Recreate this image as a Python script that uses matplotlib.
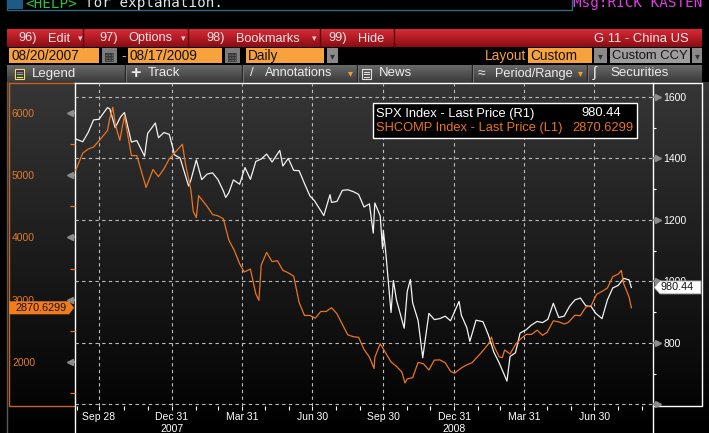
import numpy as np
import pandas as pd
import matplotlib
matplotlib.use("Agg")
import matplotlib.pyplot as plt
import matplotlib.dates as mdates
from matplotlib.colors import to_rgb
from matplotlib.patches import Rectangle, Polygon
from matplotlib.ticker import FixedLocator
from matplotlib.transforms import blended_transform_factory

# ---- data ----
spx_dates = [
    "2007-08-29", "2007-09-07", "2007-09-14", "2007-09-21", "2007-09-28", "2007-10-09",
    "2007-10-12", "2007-10-19", "2007-10-26", "2007-10-31", "2007-11-09", "2007-11-16",
    "2007-11-26", "2007-11-30", "2007-12-10", "2007-12-14", "2007-12-21", "2007-12-28",
    "2008-01-04", "2008-01-11", "2008-01-22", "2008-01-25", "2008-02-01", "2008-02-08",
    "2008-02-15", "2008-02-22", "2008-02-29", "2008-03-07", "2008-03-10", "2008-03-14",
    "2008-03-20", "2008-03-28", "2008-04-04", "2008-04-11", "2008-04-18", "2008-04-25",
    "2008-05-02", "2008-05-09", "2008-05-19", "2008-05-23", "2008-05-30", "2008-06-06",
    "2008-06-13", "2008-06-20", "2008-06-27", "2008-07-03", "2008-07-15", "2008-07-23",
    "2008-07-25", "2008-08-01", "2008-08-08", "2008-08-15", "2008-08-22", "2008-08-29",
    "2008-09-05", "2008-09-12", "2008-09-17", "2008-09-19", "2008-09-26", "2008-09-29",
    "2008-09-30", "2008-10-03", "2008-10-10", "2008-10-13", "2008-10-17", "2008-10-27",
    "2008-10-31", "2008-11-04", "2008-11-07", "2008-11-14", "2008-11-20", "2008-11-28",
    "2008-12-05", "2008-12-12", "2008-12-19", "2008-12-26", "2009-01-06", "2009-01-09",
    "2009-01-16", "2009-01-20", "2009-01-28", "2009-02-06", "2009-02-13", "2009-02-20",
    "2009-02-27", "2009-03-09", "2009-03-13", "2009-03-20", "2009-03-26", "2009-04-03",
    "2009-04-09", "2009-04-17", "2009-04-24", "2009-05-01", "2009-05-08", "2009-05-15",
    "2009-05-22", "2009-05-29", "2009-06-05", "2009-06-12", "2009-06-19", "2009-06-26",
    "2009-07-02", "2009-07-10", "2009-07-17", "2009-07-24", "2009-07-31", "2009-08-07",
    "2009-08-14", "2009-08-17",
]
spx_close = [
    1463, 1454, 1484, 1525, 1527, 1565,
    1561, 1500, 1535, 1549, 1453, 1458,
    1407, 1481, 1515, 1467, 1484, 1478,
    1411, 1401, 1310, 1330, 1395, 1331,
    1349, 1353, 1331, 1294, 1273, 1288,
    1330, 1316, 1370, 1332, 1390, 1398,
    1414, 1388, 1426, 1375, 1400, 1361,
    1360, 1318, 1278, 1262, 1214, 1282,
    1257, 1260, 1296, 1298, 1292, 1283,
    1242, 1252, 1157, 1255, 1213, 1106,
    1166, 1099, 899, 1003, 940, 848,
    968, 1006, 930, 873, 752, 896,
    876, 879, 887, 872, 935, 890,
    850, 805, 874, 869, 826, 770,
    735, 676, 756, 768, 832, 843,
    857, 870, 866, 877, 929, 883,
    887, 919, 940, 946, 921, 918,
    896, 879, 940, 979, 987, 1010,
    1005, 980.44,
]

sh_dates = [
    "2007-08-29", "2007-09-07", "2007-09-14", "2007-09-21", "2007-09-28", "2007-10-09",
    "2007-10-12", "2007-10-16", "2007-10-19", "2007-10-25", "2007-10-31", "2007-11-09",
    "2007-11-16", "2007-11-28", "2007-11-30", "2007-12-07", "2007-12-14", "2007-12-21",
    "2007-12-28", "2008-01-04", "2008-01-14", "2008-01-18", "2008-01-25", "2008-01-28",
    "2008-02-01", "2008-02-04", "2008-02-15", "2008-02-22", "2008-02-29", "2008-03-07",
    "2008-03-14", "2008-03-21", "2008-03-28", "2008-04-03", "2008-04-11", "2008-04-18",
    "2008-04-22", "2008-04-25", "2008-05-02", "2008-05-09", "2008-05-16", "2008-05-23",
    "2008-05-30", "2008-06-06", "2008-06-13", "2008-06-20", "2008-06-27", "2008-07-04",
    "2008-07-11", "2008-07-18", "2008-07-25", "2008-08-01", "2008-08-08", "2008-08-15",
    "2008-08-22", "2008-08-29", "2008-09-05", "2008-09-12", "2008-09-18", "2008-09-19",
    "2008-09-26", "2008-10-10", "2008-10-17", "2008-10-24", "2008-10-28", "2008-10-31",
    "2008-11-07", "2008-11-14", "2008-11-21", "2008-11-28", "2008-12-05", "2008-12-12",
    "2008-12-19", "2008-12-26", "2008-12-31", "2009-01-09", "2009-01-16", "2009-01-23",
    "2009-02-06", "2009-02-13", "2009-02-17", "2009-02-20", "2009-02-27", "2009-03-03",
    "2009-03-06", "2009-03-13", "2009-03-20", "2009-03-27", "2009-04-03", "2009-04-10",
    "2009-04-17", "2009-04-24", "2009-04-30", "2009-05-08", "2009-05-15", "2009-05-22",
    "2009-05-27", "2009-06-05", "2009-06-12", "2009-06-19", "2009-06-26", "2009-07-03",
    "2009-07-10", "2009-07-17", "2009-07-24", "2009-07-31", "2009-08-04", "2009-08-07",
    "2009-08-14", "2009-08-17",
]
sh_close = [
    5085, 5355, 5421, 5454, 5552, 5718,
    5913, 6092, 5819, 5562, 5954, 5316,
    5316, 4803, 4871, 5092, 4978, 5101,
    5262, 5361, 5497, 5180, 4761, 4419,
    4320, 4672, 4499, 4370, 4348, 4300,
    3962, 3796, 3580, 3446, 3492, 3094,
    2990, 3558, 3761, 3613, 3626, 3473,
    3433, 3379, 2957, 2747, 2748, 2704,
    2811, 2811, 2872, 2776, 2605, 2437,
    2406, 2397, 2202, 2079, 1895, 2075,
    2293, 2000, 1930, 1839, 1664, 1728,
    1748, 1994, 1971, 1871, 2030, 2034,
    1990, 1850, 1820, 1904, 1954, 1990,
    2182, 2290, 2400, 2261, 2082, 2071,
    2193, 2128, 2282, 2374, 2444, 2444,
    2512, 2429, 2478, 2661, 2645, 2611,
    2633, 2751, 2744, 2881, 2905, 3088,
    3133, 3189, 3372, 3412, 3471, 3261,
    3046, 2870.6299,
]

quarter_ends = ["2007-09-28", "2007-12-31", "2008-03-31", "2008-06-30",
                "2008-09-30", "2008-12-31", "2009-03-31", "2009-06-30"]
quarter_labels = ["Sep 28", "Dec 31\n2007", "Mar 31", "Jun 30",
                  "Sep 30", "Dec 31\n2008", "Mar 31", "Jun 30"]
spx_ticks = [600, 800, 1000, 1200, 1400, 1600]
spx_labels = ["", "800", "1000", "1200", "1400", "1600"]
spx_minor = [700, 900, 1100, 1300, 1500]
sh_ticks = [2000, 3000, 4000, 5000, 6000]
sh_minor = [1500, 2500, 3500, 4500, 5500]

# ---- look ----
SANS = ["Liberation Sans", "DejaVu Sans"]
MONO = ["DejaVu Sans Mono"]
plt.rcParams["font.family"] = SANS

ORANGE = "#ea751e"
AMBER = "#f7a23c"
GRID = "#bdbdbd"

W, H = 709, 433
L, R, T, B = 75, 653, 83, 406

fig = plt.figure(figsize=(W / 100, H / 100), dpi=100)
fig.patch.set_facecolor("black")

bg = fig.add_axes([0, 0, 1, 1])
bg.set_xlim(0, W)
bg.set_ylim(H, 0)
bg.axis("off")


def gradient(ax, x0, x1, y0, y1, c_top, c_bot):
    t = np.linspace(0, 1, 128)[:, None]
    img = np.array(to_rgb(c_top))[None, :] * (1 - t) + np.array(to_rgb(c_bot))[None, :] * t
    ax.imshow(img[:, None, :], extent=(x0, x1, y1, y0), aspect="auto",
              interpolation="bilinear", zorder=0)


def box(ax, x, y, w, h, fc, ec="none", lw=0.8):
    ax.add_patch(Rectangle((x, y), w, h, fc=fc, ec=ec, lw=lw, zorder=1))


# top strip
bg.add_patch(Rectangle((7, -6), 565, 16, fill=False, ec="#2b6b80", lw=1))
box(bg, 7, -6, 16, 15, "#1f5a86")
bg.text(25, 7.5, "<HELP>", color="#34c034", fontsize=10.3, family=MONO, va="baseline")
bg.text(85, 7.5, "for explanation.", color="#e6e6e6", fontsize=10.3, family=MONO, va="baseline")
bg.text(573, 7.5, "Msg:RICK KASTEN", color="#e23ee2", fontsize=10.3, family=MONO, va="baseline")

# red menu bar
gradient(bg, 7, 702, 29, 47, "#d92b36", "#8a0c13")
for sx in [83, 188, 320, 394]:
    bg.plot([sx, sx], [29, 47], color="#5a0508", lw=1)
for txt, x in [("96)", 18), ("Edit", 48), ("97)", 99), ("Options", 128),
               ("98)", 206), ("Bookmarks", 236), ("99)", 328), ("Hide", 358)]:
    bg.text(x, 38.5, txt, color="#f3e6e6", fontsize=9.2, va="center")
for x in [78, 181, 312]:
    bg.text(x, 38.5, "▾", color="#f0caca", fontsize=6.5, family=["DejaVu Sans"], va="center")
bg.text(689, 38.5, "G 11 - China US", color="#f3e6e6", fontsize=9.4,
        va="center", ha="right")

# date / period row
ry, rh, rc = 48, 15, 56
for x, w, txt in [(9, 90, "08/20/2007"), (128, 94, "08/17/2009"), (246, 78, "Daily"),
                  (528, 64, "Custom")]:
    box(bg, x, ry, w, rh, AMBER)
    bg.text(x + 2, rc, txt, color="#111111", fontsize=9.8, va="center")
for x in [102, 225]:
    box(bg, x, ry, 15, rh, "#7c7c7c")
    bg.text(x + 7.5, rc, "▦", color="#2a2a2a", fontsize=8, family=["DejaVu Sans"],
            ha="center", va="center")
bg.text(121, rc, "-", color=AMBER, fontsize=10, va="center")
for x, w in [(327, 11), (594, 13), (692, 10)]:
    box(bg, x, ry, w, rh, "#8a8a8a")
    bg.text(x + w / 2, rc, "▾", color="#333333", fontsize=7, family=["DejaVu Sans"],
            ha="center", va="center")
bg.text(485, rc, "Layout", color=AMBER, fontsize=9.8, va="center")
box(bg, 610, ry, 80, rh, "#9d9d9d")
bg.text(612, rc, "Custom CCY", color="#151515", fontsize=9.4, va="center")

# tool bar
gradient(bg, 7, 702, 65, 82, "#6a6a6a", "#3a3a3a")
for sx in [125, 242, 357, 472, 587]:
    bg.plot([sx, sx], [65, 82], color="#262626", lw=1)
    bg.plot([sx + 1, sx + 1], [65, 82], color="#7a7a7a", lw=0.6)
tb_y = 73.5
bg.add_patch(Rectangle((15, 69), 9, 10, fc="#303030", ec="#efe070", lw=0.8, zorder=2))
for yy, cc in [(71.5, "#d050d0"), (74, "#60d060"), (76.5, "#efe070")]:
    bg.plot([17, 22], [yy, yy], color=cc, lw=0.9, zorder=3)
bg.add_patch(Rectangle((362, 69), 9, 10, fc="none", ec="#e0e0e0", lw=0.8, zorder=2))
for yy in [71.5, 74, 76.5]:
    bg.plot([364, 369], [yy, yy], color="#e0e0e0", lw=0.8, zorder=3)
for txt, x, fs in [("Legend", 32, 9.5), ("+", 130, 13), ("Track", 148, 9.5),
                   ("/", 250, 9.5), ("Annotations", 265, 9.2), ("News", 379, 9.5),
                   ("≈", 478, 10), ("Period/Range", 495, 9.2), ("ʃ", 593, 11),
                   ("Securities", 610, 9.5)]:
    bg.text(x, tb_y, txt, color="#ececec", fontsize=fs, va="center",
            fontweight="bold" if txt == "+" else "normal")
for x in [348, 578]:
    bg.text(x, tb_y, "▾", color="#f0a030", fontsize=7, family=["DejaVu Sans"], va="center")

# chart panels
gradient(bg, 7, W, 82, H, "#363636", "#000000")
bg.plot([7, 7], [82, H], color="#5a5a5a", lw=1)
bg.plot([9, 9, L], [T, B, B], color="#c4621e", lw=1)
bg.plot([9, L], [T, T], color="#c4621e", lw=1)
bg.plot([L, L], [T, H], color="white", lw=1)
bg.plot([R, R], [T, H], color="white", lw=1)
bg.plot([L, R, 702, 702, R], [T, T, T, B, B], color="white", lw=1)

# ---- plot axes ----
ax = fig.add_axes([L / W, 1 - B / H, (R - L) / W, (B - T) / H])
ax.set_facecolor("none")
ax2 = ax.twinx()
for a in (ax, ax2):
    for s in a.spines.values():
        s.set_visible(False)

ax.plot(pd.to_datetime(spx_dates), spx_close, color="#f2f2f2", lw=0.9)
ax2.plot(pd.to_datetime(sh_dates), sh_close, color=ORANGE, lw=0.9)

ax.set_xlim(pd.Timestamp("2007-08-28"), pd.Timestamp("2009-09-14"))
ax.set_ylim(595, 1645)
ax2.set_ylim(1293, 6482)

ax.set_xticks(mdates.date2num(pd.to_datetime(quarter_ends)), labels=quarter_labels)
ax.xaxis.set_minor_locator(mdates.MonthLocator(bymonth=[1, 2, 4, 5, 7, 8, 10, 11],
                                               bymonthday=-1))
ax.tick_params(axis="x", which="both", direction="out", color="white", length=3,
               width=0.8, labelcolor="white", labelsize=7.5, pad=1)
for lab in ax.get_xticklabels():
    lab.set_linespacing(1.3)

ax.grid(True, which="major", axis="both", color=GRID, lw=0.8, ls=(0, (3, 3)))

# right axis (SPX)
ax.yaxis.tick_right()
ax.set_yticks(spx_ticks, labels=spx_labels)
ax.yaxis.set_minor_locator(FixedLocator(spx_minor))
ax.tick_params(axis="y", which="major", direction="out", length=4, width=1.6,
               color="#8c8c8c", labelcolor="white", labelsize=7.5, pad=3.5)
ax.tick_params(axis="y", which="minor", direction="out", length=2.2, width=0.8,
               color="white")
ax.plot(np.full(len(spx_ticks), 1 + 5 / (R - L)), spx_ticks, ls="none", marker=">",
        ms=4, color="#8c8c8c", clip_on=False,
        transform=blended_transform_factory(ax.transAxes, ax.transData))

# left axis (SHCOMP)
ax2.yaxis.tick_left()
ax2.set_yticks(sh_ticks)
ax2.yaxis.set_minor_locator(FixedLocator(sh_minor))
ax2.tick_params(axis="y", which="major", direction="out", length=4, width=1.6,
                color="#8c8c8c", labelcolor="#e07a2c", labelsize=7.5, pad=41.4)
ax2.tick_params(axis="y", which="minor", direction="out", length=3.5, width=0.9,
                color=ORANGE)
for lab in ax2.get_yticklabels():
    lab.set_ha("left")
ax2.plot(np.full(len(sh_ticks), -5 / (R - L)), sh_ticks, ls="none", marker="<",
         ms=4, color="#8c8c8c", clip_on=False,
         transform=blended_transform_factory(ax2.transAxes, ax2.transData))

# ---- overlay: last-price tags and legend box ----
top = fig.add_axes([0, 0, 1, 1])
top.set_xlim(0, W)
top.set_ylim(H, 0)
top.axis("off")

y_sh = H - ax2.transData.transform((0, sh_close[-1]))[1]
y_spx = H - ax.transData.transform((0, spx_close[-1]))[1]

top.add_patch(Polygon([(9, y_sh - 6.5), (69, y_sh - 6.5), (74, y_sh), (69, y_sh + 6.5),
                       (9, y_sh + 6.5)], closed=True, fc="#f27b1c", ec="none"))
top.text(41.5, y_sh, f"{sh_close[-1]:.4f}", color="#141414", fontsize=7.8,
         ha="center", va="center")
top.add_patch(Polygon([(654, y_spx), (660, y_spx - 6.5), (701, y_spx - 6.5),
                       (701, y_spx + 6.5), (660, y_spx + 6.5)], closed=True,
                      fc="white", ec="#9a9a9a", lw=0.6))
top.text(677, y_spx, f"{spx_close[-1]:.2f}", color="#111111", fontsize=7.8,
         ha="center", va="center")

top.add_patch(Rectangle((373, 103), 264, 35, fc="black", ec="white", lw=1))
top.text(376, 113.5, "SPX Index - Last Price (R1)", color="white", fontsize=9.3,
         va="center")
top.text(601, 113.5, f"{spx_close[-1]:.2f}", color="white", fontsize=9.3,
         va="center", ha="center")
top.text(376, 128, "SHCOMP Index - Last Price (L1)", color=ORANGE, fontsize=9.3,
         va="center")
top.text(603, 128, f"{sh_close[-1]:.4f}", color=ORANGE, fontsize=9.3,
         va="center", ha="center")

fig.savefig("out.png", dpi=100, facecolor=fig.get_facecolor())
